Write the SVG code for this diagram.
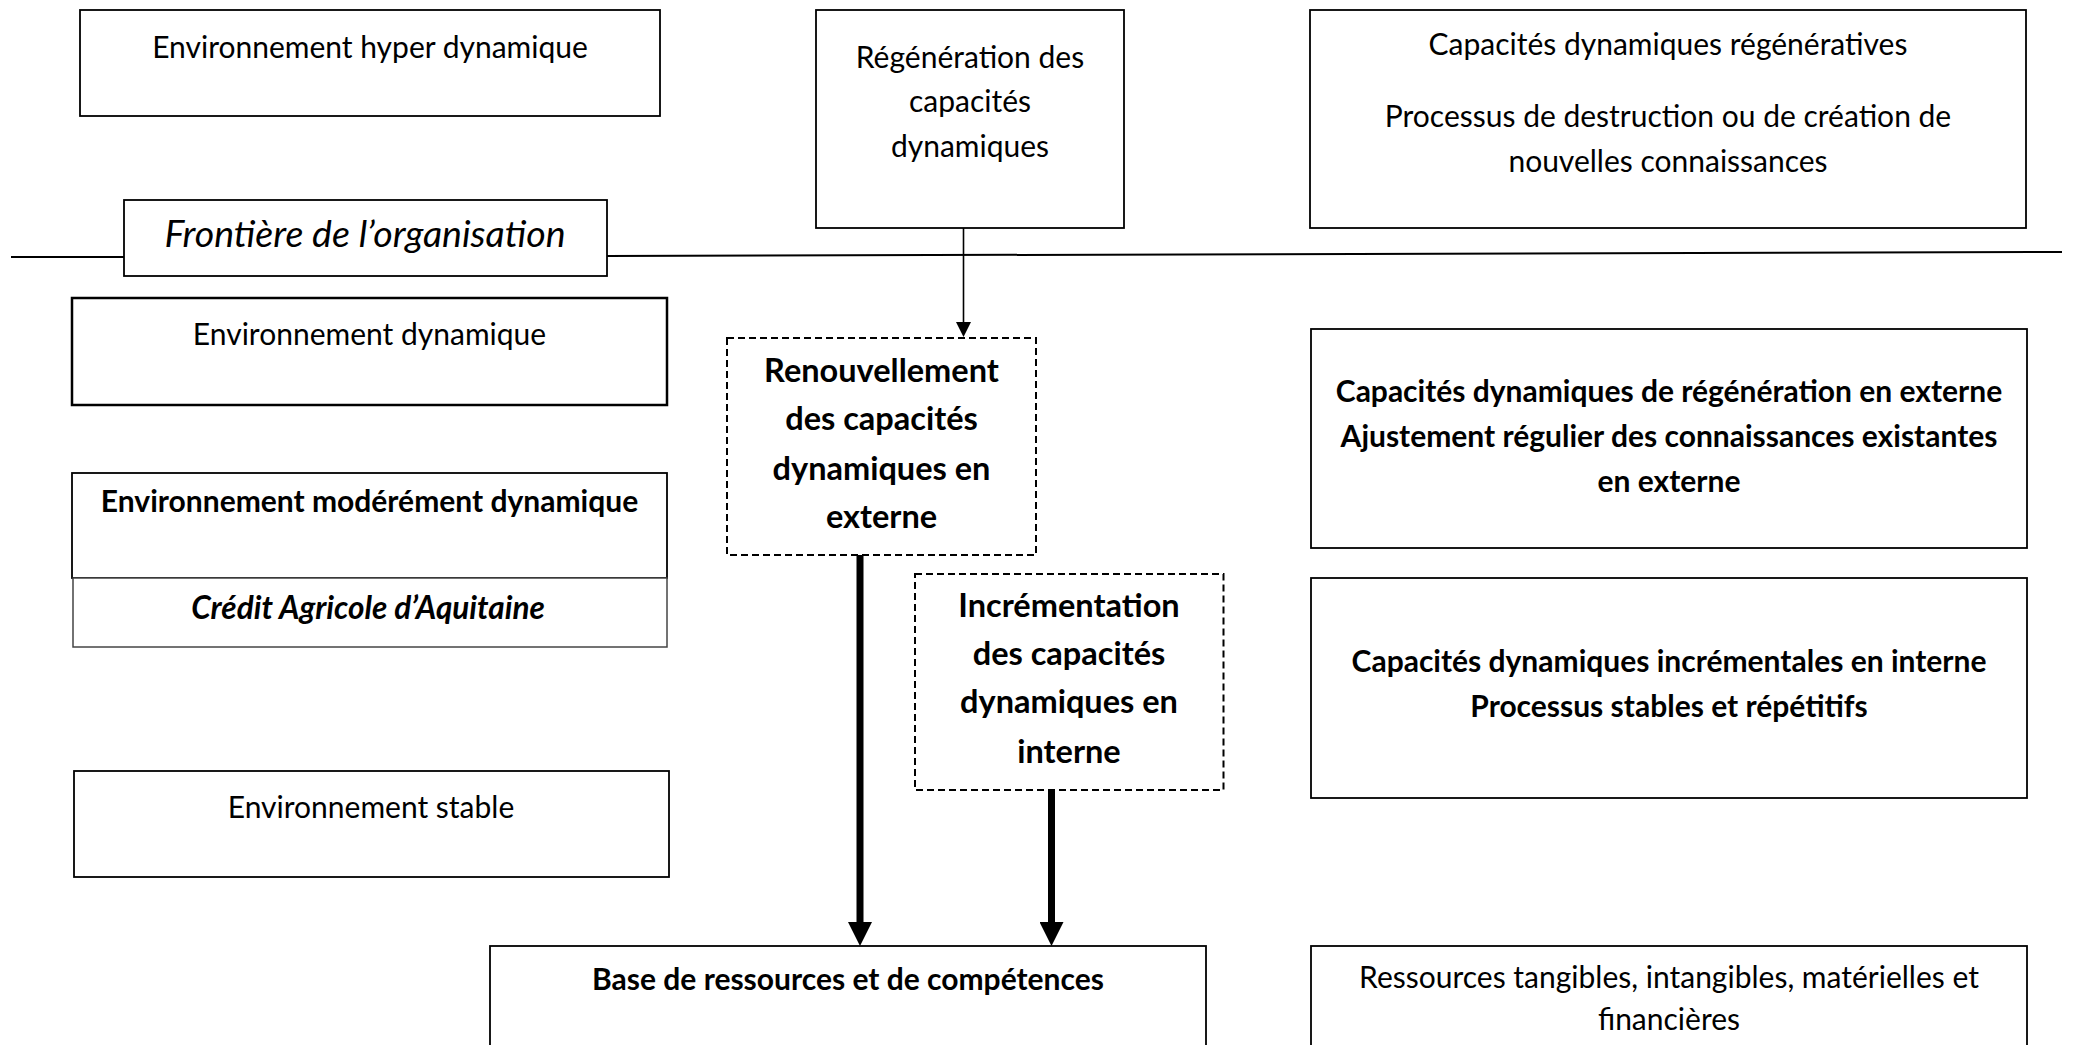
<svg xmlns="http://www.w3.org/2000/svg" width="2073" height="1045" viewBox="0 0 2073 1045">
<defs>
<style>
.box{fill:#fff;stroke:#000;stroke-width:1.8}
.dash{fill:#fff;stroke:#000;stroke-width:2;stroke-dasharray:7 4}
.t{font-family:Lato,"Open Sans",sans-serif;font-size:30px;fill:#000;text-anchor:middle}
.b{font-weight:bold}
.i{font-style:italic}
.big{font-size:32.5px}
.thin{stroke:#000;stroke-width:1.6;fill:none}
.thick{stroke:#000;stroke-width:7;fill:none}
.edge{stroke:#000;stroke-width:2;fill:none}
</style>
<marker id="ah" markerUnits="userSpaceOnUse" markerWidth="15" markerHeight="15" refX="0" refY="7.5" orient="auto"><path d="M0,0 L15,7.5 L0,15 z" fill="#000"/></marker>
<marker id="ahb" markerUnits="userSpaceOnUse" markerWidth="24" markerHeight="24" refX="0" refY="12" orient="auto"><path d="M0,0 L24,12 L0,24 z" fill="#000"/></marker>
</defs>
<rect width="2073" height="1045" fill="#fff"/>

<g id="boundary">
<line class="edge" x1="11" y1="257" x2="124" y2="257"/>
<line class="edge" x1="607" y1="256" x2="2062" y2="252"/>
</g>

<g id="connectors">
<line class="thin" x1="963.5" y1="228" x2="963.5" y2="322" marker-end="url(#ah)"/>
<line class="thick" x1="860" y1="555" x2="860" y2="922" marker-end="url(#ahb)"/>
<line class="thick" x1="1051.5" y1="790" x2="1051.5" y2="922" marker-end="url(#ahb)"/>
</g>

<g id="env-hyper">
<rect class="box" x="80" y="10" width="580" height="106"/>
<text class="t" x="370" y="58">Environnement hyper dynamique</text>
</g>

<g id="frontiere">
<rect class="box" x="124" y="200" width="483" height="76"/>
<text class="t i" x="365" y="247" style="font-size:37.5px">Frontière de l’organisation</text>
</g>

<g id="regeneration">
<rect class="box" x="816" y="10" width="308" height="218"/>
<text class="t" x="970" y="68">Régénération des</text>
<text class="t" x="970" y="112">capacités</text>
<text class="t" x="970" y="157">dynamiques</text>
</g>

<g id="cap-regeneratives">
<rect class="box" x="1310" y="10" width="716" height="218"/>
<text class="t" x="1668" y="55">Capacités dynamiques régénératives</text>
<text class="t" x="1668" y="127">Processus de destruction ou de création de</text>
<text class="t" x="1668" y="172">nouvelles connaissances</text>
</g>

<g id="env-dynamique">
<rect class="box" x="72" y="298" width="595" height="107" style="stroke-width:2.5"/>
<text class="t" x="369.5" y="345">Environnement dynamique</text>
</g>

<g id="env-modere">
<rect class="box" x="72" y="473" width="595" height="105"/>
<text class="t b" x="369.5" y="512">Environnement modérément dynamique</text>
</g>

<g id="credit-agricole">
<rect class="box" x="73" y="578" width="594" height="69" style="stroke:#444;stroke-width:1.5"/>
<text class="t b i" x="368" y="619" style="font-size:31.5px">Crédit Agricole d’Aquitaine</text>
</g>

<g id="env-stable">
<rect class="box" x="74" y="771" width="595" height="106"/>
<text class="t" x="371" y="818">Environnement stable</text>
</g>

<g id="renouvellement">
<rect class="dash" x="727" y="338" width="309" height="217"/>
<text class="t b big" x="881.5" y="382">Renouvellement</text>
<text class="t b big" x="881.5" y="430">des capacités</text>
<text class="t b big" x="881.5" y="480">dynamiques en</text>
<text class="t b big" x="881.5" y="528">externe</text>
</g>

<g id="incrementation">
<rect class="dash" x="915" y="574" width="308.5" height="216"/>
<text class="t b big" x="1069" y="617">Incrémentation</text>
<text class="t b big" x="1069" y="665">des capacités</text>
<text class="t b big" x="1069" y="713">dynamiques en</text>
<text class="t b big" x="1069" y="763">interne</text>
</g>

<g id="cap-externe">
<rect class="box" x="1311" y="329" width="716" height="219"/>
<text class="t b" x="1669" y="402">Capacités dynamiques de régénération en externe</text>
<text class="t b" x="1669" y="447">Ajustement régulier des connaissances existantes</text>
<text class="t b" x="1669" y="492">en externe</text>
</g>

<g id="cap-interne">
<rect class="box" x="1311" y="578" width="716" height="220"/>
<text class="t b" x="1669" y="672">Capacités dynamiques incrémentales en interne</text>
<text class="t b" x="1669" y="717">Processus stables et répétitifs</text>
</g>

<g id="base-ressources">
<rect class="box" x="490" y="946" width="716" height="120"/>
<text class="t b" x="848" y="990">Base de ressources et de compétences</text>
</g>

<g id="ressources">
<rect class="box" x="1311" y="946" width="716" height="120"/>
<text class="t" x="1669" y="988">Ressources tangibles, intangibles, matérielles et</text>
<text class="t" x="1669" y="1030">financières</text>
</g>
</svg>
